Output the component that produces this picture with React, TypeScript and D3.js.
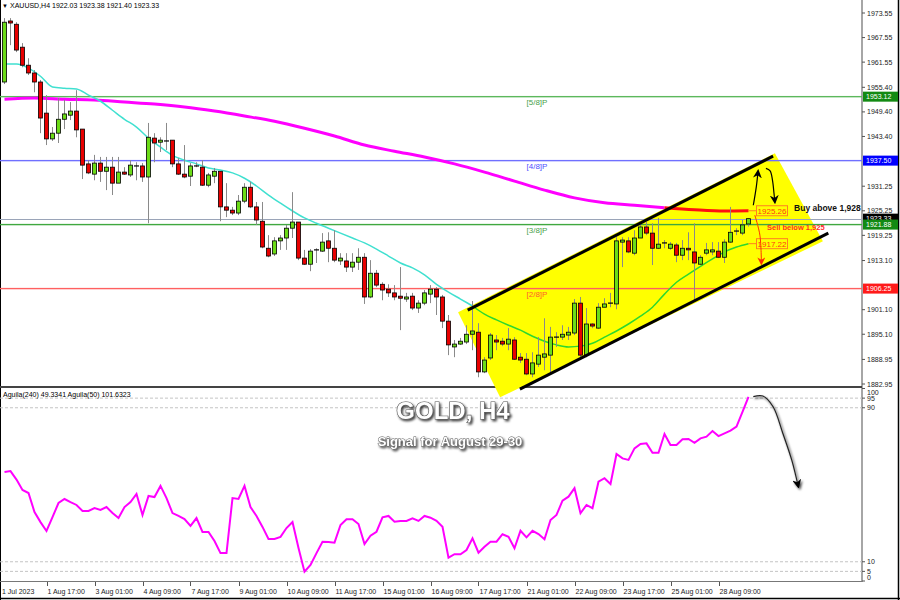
import * as d3 from "d3"

// XAUUSD H4 candles (bar 0 = leftmost)
const opens = [
  1956.7, 1971.6, 1970.8, 1965.2, 1960.8, 1958.9, 1956.7, 1949.1, 1942.8, 1944.2,
  1947.6, 1948.6, 1949.6, 1945.2, 1936.7, 1934.2, 1936.9, 1934.9, 1935.9, 1932.0,
  1934.7, 1934.0, 1936.2, 1936.2, 1933.5, 1943.0, 1942.0, 1942.3, 1942.5, 1936.7,
  1934.2, 1933.7, 1936.2, 1935.9, 1931.5, 1933.7, 1934.9, 1926.2, 1925.4, 1924.7,
  1927.6, 1931.0, 1926.2, 1922.7, 1916.1, 1914.7, 1917.9, 1918.6, 1921.0, 1922.5,
  1913.7, 1912.2, 1915.4, 1915.4, 1917.9, 1916.1, 1913.0, 1913.0, 1911.5, 1912.7,
  1913.9, 1904.2, 1910.0, 1907.3, 1906.1, 1905.2, 1904.4, 1903.7, 1904.4, 1901.5,
  1902.7, 1904.9, 1906.1, 1904.2, 1898.3, 1892.0, 1892.7, 1893.2, 1895.1, 1895.6,
  1885.9, 1889.3, 1893.7, 1893.4, 1892.7, 1893.7, 1889.5, 1889.0, 1885.4, 1887.8,
  1889.5, 1890.0, 1894.2, 1894.4, 1894.9, 1895.4, 1902.7, 1890.0, 1897.6, 1896.6,
  1901.7, 1902.5, 1902.5, 1917.6, 1917.9, 1914.9, 1918.6, 1921.3, 1919.8, 1916.1,
  1917.4, 1916.1, 1916.9, 1914.4, 1916.1, 1915.2, 1912.2, 1914.9, 1915.2, 1915.4,
  1913.9, 1917.6, 1920.3, 1919.8, 1922.03,
]
const highs = [
  1972.3, 1972.3, 1971.3, 1966.2, 1962.5, 1959.6, 1957.2, 1953.5, 1945.7, 1952.8,
  1952.3, 1951.8, 1954.7, 1945.2, 1937.6, 1938.9, 1938.4, 1938.4, 1938.4, 1938.4,
  1935.9, 1937.6, 1937.1, 1936.9, 1946.7, 1944.2, 1943.2, 1946.7, 1942.5, 1938.1,
  1941.3, 1936.9, 1937.1, 1937.6, 1934.5, 1935.7, 1934.9, 1932.0, 1926.2, 1929.1,
  1932.0, 1932.3, 1927.4, 1927.4, 1919.3, 1918.8, 1919.3, 1921.8, 1929.8, 1922.5,
  1915.7, 1915.9, 1916.1, 1919.8, 1920.0, 1920.5, 1914.9, 1914.9, 1914.9, 1916.1,
  1914.9, 1913.2, 1910.8, 1907.8, 1907.3, 1907.1, 1911.5, 1905.2, 1905.2, 1903.4,
  1905.9, 1907.1, 1906.6, 1904.7, 1899.8, 1893.7, 1894.2, 1897.3, 1903.2, 1897.8,
  1889.5, 1895.4, 1894.9, 1894.2, 1896.6, 1894.4, 1890.5, 1890.5, 1890.7, 1894.4,
  1899.0, 1896.9, 1895.6, 1897.3, 1896.9, 1903.7, 1904.2, 1901.5, 1897.8, 1902.7,
  1903.9, 1905.2, 1918.8, 1918.8, 1918.8, 1920.5, 1922.2, 1922.5, 1922.2, 1923.5,
  1918.1, 1917.6, 1917.4, 1918.1, 1920.0, 1922.2, 1914.4, 1917.4, 1917.6, 1917.6,
  1918.3, 1926.2, 1921.0, 1923.0, 1923.38,
]
const lows = [
  1956.2, 1965.7, 1964.0, 1960.3, 1958.4, 1954.2, 1944.2, 1941.3, 1942.3, 1941.8,
  1945.2, 1947.4, 1943.2, 1933.0, 1934.2, 1932.7, 1932.3, 1930.3, 1929.1, 1932.3,
  1934.0, 1933.5, 1932.7, 1932.3, 1922.2, 1937.1, 1939.6, 1940.1, 1935.9, 1934.0,
  1933.2, 1931.3, 1935.9, 1931.3, 1931.0, 1932.0, 1922.7, 1923.7, 1924.2, 1924.2,
  1927.1, 1925.9, 1921.8, 1916.1, 1913.9, 1914.2, 1915.7, 1915.7, 1918.6, 1913.2,
  1912.0, 1910.5, 1912.5, 1915.2, 1912.7, 1912.7, 1912.0, 1910.3, 1910.3, 1910.8,
  1902.5, 1903.9, 1906.6, 1903.4, 1904.2, 1903.4, 1896.1, 1903.0, 1901.0, 1900.3,
  1902.2, 1902.7, 1899.8, 1896.6, 1890.0, 1889.5, 1892.5, 1892.7, 1891.2, 1884.6,
  1885.6, 1888.8, 1891.2, 1892.2, 1891.2, 1888.8, 1888.1, 1885.1, 1884.6, 1887.1,
  1886.3, 1885.6, 1892.0, 1893.7, 1893.7, 1894.9, 1889.5, 1889.5, 1896.6, 1896.4,
  1901.7, 1901.7, 1901.2, 1911.5, 1914.9, 1914.4, 1918.6, 1919.3, 1912.0, 1915.9,
  1916.1, 1915.7, 1912.7, 1913.2, 1913.2, 1903.4, 1912.0, 1914.4, 1914.4, 1913.7,
  1912.5, 1917.4, 1919.3, 1919.3, 1921.40,
]
const closes = [
  1971.3, 1971.1, 1964.5, 1960.8, 1958.9, 1956.7, 1947.9, 1942.8, 1944.2, 1947.6,
  1948.9, 1949.6, 1945.0, 1936.4, 1934.5, 1936.9, 1934.9, 1935.9, 1932.0, 1934.7,
  1934.2, 1936.4, 1936.2, 1933.5, 1943.2, 1941.8, 1942.5, 1942.3, 1936.7, 1934.2,
  1933.5, 1936.2, 1936.2, 1931.5, 1934.0, 1934.9, 1926.2, 1925.4, 1924.7, 1927.6,
  1931.0, 1926.2, 1923.0, 1916.4, 1914.2, 1917.9, 1918.6, 1921.0, 1922.5, 1913.7,
  1912.2, 1915.4, 1915.7, 1917.6, 1916.1, 1913.2, 1913.7, 1911.5, 1912.7, 1913.9,
  1904.2, 1910.0, 1907.1, 1905.9, 1905.2, 1904.2, 1903.9, 1904.2, 1901.5, 1902.7,
  1905.2, 1906.1, 1904.2, 1898.3, 1892.5, 1892.7, 1893.4, 1895.1, 1895.9, 1885.9,
  1888.8, 1894.9, 1893.2, 1892.7, 1893.9, 1889.0, 1888.8, 1885.4, 1888.1, 1890.0,
  1890.3, 1894.4, 1894.4, 1895.1, 1895.6, 1902.7, 1890.0, 1897.6, 1897.1, 1901.7,
  1902.5, 1902.7, 1917.9, 1918.1, 1915.2, 1918.6, 1921.3, 1919.8, 1916.1, 1917.1,
  1917.1, 1917.1, 1914.4, 1916.1, 1915.7, 1912.5, 1913.9, 1915.7, 1915.7, 1913.9,
  1917.6, 1920.0, 1920.0, 1921.8, 1923.33,
]

// slow MA (magenta, red at the end), sampled every 5 bars
const ma200Bars = [0, 5, 10, 15, 20, 25, 30, 35, 40, 45, 50, 55, 60, 65, 70, 75, 80, 85, 90, 95, 100, 105, 110, 115, 120, 124]
const ma200 = [
  1952.5, 1952.8, 1952.5, 1952.3, 1951.8, 1951.3, 1950.6, 1949.6, 1948.4, 1947.1,
  1945.4, 1943.5, 1941.3, 1939.8, 1938.4, 1936.7, 1934.7, 1932.5, 1930.3, 1928.4,
  1927.2, 1926.6, 1926.0, 1925.5, 1925.2, 1925.26,
]
// fast MA (turquoise, then green), sampled every 2 bars
const ma20 = [
  1961.1, 1961.1, 1960.1, 1958.1, 1955.5, 1955.2, 1955.0, 1953.5, 1952.0, 1949.8,
  1947.6, 1945.7, 1943.0, 1940.8, 1938.8, 1937.6, 1936.7, 1935.7, 1935.2, 1934.5,
  1933.2, 1931.3, 1929.1, 1927.1, 1925.2, 1923.5, 1922.2, 1921.0, 1919.8, 1918.6,
  1917.4, 1915.9, 1914.2, 1912.5, 1911.3, 1909.6, 1907.3, 1905.4, 1903.7, 1902.0,
  1900.0, 1898.6, 1897.3, 1896.1, 1894.6, 1893.4, 1892.5, 1892.0, 1892.2, 1892.9,
  1894.4, 1895.9, 1897.6, 1899.5, 1901.7, 1904.9, 1907.8, 1909.8, 1911.7, 1913.5,
  1915.2, 1916.4, 1917.22,
]
const ma20Bars = ma20.map((_, i) => i * 2)

// Aguila(50) oscillator
const aguila = [
  56.6, 57.1, 52.7, 47.3, 45.7, 35.8, 30.6, 26.0, 33.2, 40.5,
  42.6, 41.0, 39.5, 36.4, 36.4, 37.9, 36.9, 38.4, 35.3, 32.7,
  38.4, 41.0, 45.2, 34.3, 44.2, 43.6, 49.4, 43.1, 35.3, 33.8,
  32.2, 28.6, 32.7, 25.5, 25.5, 20.8, 14.5, 14.5, 43.1, 42.6,
  49.4, 38.4, 33.8, 28.1, 21.8, 21.8, 22.9, 27.5, 30.6, 17.1,
  4.8, 8.3, 14.5, 20.4, 20.3, 19.9, 29.1, 32.1, 32.1, 29.6,
  19.2, 23.5, 25.6, 33.1, 33.8, 30.8, 31.2, 31.2, 32.6, 31.2,
  33.8, 32.9, 31.3, 28.2, 12.1, 13.9, 13.9, 16.1, 22.2, 14.7,
  17.8, 20.4, 20.4, 24.3, 23.0, 17.0, 26.1, 22.7, 26.1, 24.4,
  21.7, 31.7, 34.3, 41.7, 43.8, 48.2, 35.2, 39.5, 37.8, 51.6,
  53.4, 50.4, 66.0, 63.7, 62.9, 68.9, 71.2, 71.5, 66.6, 66.6,
  76.4, 70.6, 70.6, 73.6, 73.8, 71.8, 74.1, 75.0, 77.9, 75.3,
  76.7, 78.1, 80.2, 87.9, 95.7,
]

const priceTicks = [1973.55, 1967.55, 1961.55, 1955.40, 1949.40, 1943.40, 1931.25, 1925.25, 1919.25, 1913.10, 1901.10, 1895.10, 1888.95, 1882.95]
const aguilaTicks = [100, 95, 90, 10, 5, 0]
const aguilaLevels = [95, 90, 10, 5]

const timeBars = [7, 15, 23, 31, 39, 47, 55, 63, 71, 79, 87, 95, 103, 111, 119]
const timeLabels = ["1 Aug 17:00", "3 Aug 01:00", "4 Aug 09:00", "7 Aug 17:00", "9 Aug 01:00", "10 Aug 09:00", "11 Aug 17:00", "15 Aug 01:00", "16 Aug 09:00", "17 Aug 17:00", "21 Aug 01:00", "22 Aug 09:00", "23 Aug 17:00", "25 Aug 01:00", "28 Aug 09:00"]

const levelNames = ["[5/8]P", "[4/8]P", "[3/8]P", "[2/8]P"]
const levelPrices = [1953.12, 1937.50, 1921.88, 1906.25]
const levelLineColors = ["#5cb85c", "#7070ff", "#40a840", "#ff6060"]
const levelTextColors = ["#4a9f4a", "#4f4fff", "#4a9f4a", "#ff5a30"]
const levelBoxColors = ["#138a13", "#0000ff", "#138a13", "#ff1a1a"]
const bidPrice = 1923.33

// drawn objects, in (bar, price) terms
const channelBox = [[75.6, 1900.5], [128.4, 1939.3], [136.4, 1917.8], [82.6, 1879.7]]
const channelUpper = [[77.2, 1901.0], [128.1, 1938.6]]
const channelLower = [[85.9, 1881.7], [137.3, 1919.8]]
const buyArrow = [[124.8, 1926.6], [125.3, 1931.1], [125.6, 1935.0]]
const backArrow = [[126.9, 1935.6], [127.6, 1935.0], [128.0, 1932.7], [128.25, 1929.5], [128.4, 1927.3]]
const sellArrow = [[125.05, 1924.2], [125.9, 1919.3], [126.15, 1912.3]]
const aguilaArrow = [[124.8, 95.8], [126.4, 96.1], [128.1, 90.5], [129.7, 76.9], [131.2, 62.9], [132.3, 49.0]]

const FONT = "'Liberation Sans', Arial, sans-serif"
const GREEN = "#6cdc18"
const RED = "#e80000"

export default function App() {
  const x = d3.scaleLinear().domain([0, 143]).range([4.5, 862.5])
  const y = d3.scaleLinear().domain([1882.95, 1973.55]).range([384, 13])
  const yi = d3.scaleLinear().domain([0, 100]).range([581, 388.5])

  const priceLine = d3.line<number[]>().x(d => x(d[0])).y(d => y(d[1]))
  const smooth = d3.line<number[]>().x(d => x(d[0])).y(d => y(d[1])).curve(d3.curveMonotoneX)
  const bent = d3.line<number[]>().x(d => x(d[0])).y(d => y(d[1])).curve(d3.curveCatmullRom)
  const indLine = d3.line<number>().x((_, i) => x(i)).y(d => yi(d))
  const indBent = d3.line<number[]>().x(d => x(d[0])).y(d => yi(d[1])).curve(d3.curveCatmullRom)

  const slow = ma200Bars.map((b, i) => [b, ma200[i]])
  const fast = ma20Bars.map((b, i) => [b, ma20[i]])
  const last = opens.length - 1
  const boxX = x(last) + 8

  return (
    <svg width={900} height={600} style={{ position: "absolute", left: 0, top: 0, background: "#fff" }} fontFamily={FONT}>
      <defs>
        <clipPath id="mainClip"><rect x={0} y={0} width={862} height={386} /></clipPath>
        <clipPath id="indClip"><rect x={0} y={389} width={862} height={192} /></clipPath>
        <marker id="headBlack" viewBox="0 0 10 10" refX="8" refY="5" markerWidth="9" markerHeight="9" markerUnits="userSpaceOnUse" orient="auto">
          <path d="M0,0 L10,5 L0,10 L3,5 z" fill="#000" />
        </marker>
        <marker id="headRed" viewBox="0 0 10 10" refX="8" refY="5" markerWidth="8" markerHeight="8" markerUnits="userSpaceOnUse" orient="auto">
          <path d="M0,0 L10,5 L0,10 L3,5 z" fill="#ff3000" />
        </marker>
        <filter id="shadow" x="-10%" y="-30%" width="130%" height="170%">
          <feDropShadow dx="1.5" dy="1.8" stdDeviation="1" floodColor="#000" floodOpacity="0.75" />
        </filter>
      </defs>

      {/* frame */}
      <line x1={0.5} x2={0.5} y1={0} y2={600} stroke="#000" />
      <line x1={898.5} x2={898.5} y1={0} y2={600} stroke="#000" strokeWidth={1.5} />
      <line x1={0} x2={900} y1={598.5} y2={598.5} stroke="#000" strokeWidth={1.5} />
      <line x1={862} x2={862} y1={0} y2={582} stroke="#888" strokeWidth={1.5} />
      <line x1={0} x2={862} y1={387} y2={387} stroke="#444" strokeWidth={2} />
      <line x1={0} x2={862} y1={581.5} y2={581.5} stroke="#777" />

      {/* channel background */}
      <path d={priceLine(channelBox) + "Z"} fill="#ffff00" />

      <g clipPath="url(#mainClip)">
        {levelPrices.map((p, i) => (
          <g key={levelNames[i]}>
            <rect x={0} y={y(p) - 0.7} width={862} height={1.4} fill={levelLineColors[i]} />
            <text x={x(87)} y={y(p) + 8} fontSize={8} fill={levelTextColors[i]}>{levelNames[i]}</text>
          </g>
        ))}
        <line x1={0} x2={862} y1={Math.round(y(bidPrice)) + 0.5} y2={Math.round(y(bidPrice)) + 0.5} stroke="#9aa4b8" />

        <path d={smooth(slow.slice(0, 23)) ?? ""} fill="none" stroke="#ff00ff" strokeWidth={3} />
        <path d={smooth(slow.slice(22)) ?? ""} fill="none" stroke="#ff1010" strokeWidth={3} />
        <path d={smooth(fast.slice(0, 40)) ?? ""} fill="none" stroke="#40e0d0" strokeWidth={1.5} />
        <path d={smooth(fast.slice(39)) ?? ""} fill="none" stroke="#2ed82e" strokeWidth={1.5} />

        {opens.map((o, i) => {
          const c = closes[i]
          const top = y(Math.max(o, c))
          const bot = y(Math.min(o, c))
          const cx = x(i)
          return (
            <g key={i}>
              <line x1={cx} x2={cx} y1={y(highs[i])} y2={y(lows[i])} stroke="#8a8a8a" />
              {bot - top < 1.5
                ? <line x1={cx - 2.5} x2={cx + 2.5} y1={top} y2={top} stroke="#000" strokeWidth={1.2} />
                : <rect x={cx - 2} y={top} width={4} height={bot - top} fill={c >= o ? GREEN : RED} stroke="#000" strokeWidth={0.8} />}
            </g>
          )
        })}
      </g>

      {/* channel lines */}
      <path d={priceLine(channelUpper) ?? ""} stroke="#000" strokeWidth={3} />
      <path d={priceLine(channelLower) ?? ""} stroke="#000" strokeWidth={3} />

      {/* MA end labels */}
      <line x1={x(last)} x2={boxX} y1={y(ma200[ma200.length - 1])} y2={y(ma200[ma200.length - 1])} stroke="#ff8020" />
      <rect x={boxX} y={y(ma200[ma200.length - 1]) - 5} width={31} height={10} fill="none" stroke="#ff8020" />
      <text x={boxX + 15.5} y={y(ma200[ma200.length - 1]) + 3} fontSize={8} textAnchor="middle" fill="#ff3a10">{ma200[ma200.length - 1].toFixed(2)}</text>
      <line x1={x(last)} x2={boxX} y1={y(ma20[ma20.length - 1])} y2={y(ma20[ma20.length - 1])} stroke="#ff8020" />
      <rect x={boxX} y={y(ma20[ma20.length - 1]) - 5} width={31} height={10} fill="none" stroke="#ff8020" />
      <text x={boxX + 15.5} y={y(ma20[ma20.length - 1]) + 3} fontSize={8} textAnchor="middle" fill="#ff3a10">{ma20[ma20.length - 1].toFixed(2)}</text>

      {/* arrows and notes */}
      <path d={bent(buyArrow) ?? ""} fill="none" stroke="#000" strokeWidth={1.2} markerEnd="url(#headBlack)" />
      <path d={bent(backArrow) ?? ""} fill="none" stroke="#000" strokeWidth={1.2} markerEnd="url(#headBlack)" />
      <path d={bent(sellArrow) ?? ""} fill="none" stroke="#ff3000" strokeWidth={1} markerEnd="url(#headRed)" />
      <text x={x(131.6)} y={y(1925.3)} fontSize={8.5} fontWeight="bold" fill="#111">Buy above 1,928</text>
      <text x={x(127.1)} y={y(1920.6)} fontSize={7.5} fontWeight="bold" fill="#ff2a2a">Sell below 1,925</text>

      {/* price axis */}
      {priceTicks.map(p => (
        <g key={p}>
          <line x1={862} x2={865} y1={y(p)} y2={y(p)} stroke="#555" />
          <text x={867} y={y(p) + 2.5} fontSize={7} fill="#222">{p.toFixed(2)}</text>
        </g>
      ))}
      <rect x={863} y={y(bidPrice) - 5} width={35} height={10} fill="#000" />
      <text x={866} y={y(bidPrice) + 2.5} fontSize={7} fill="#fff">{bidPrice.toFixed(2)}</text>
      {levelPrices.map((p, i) => (
        <g key={p}>
          <rect x={863} y={y(p) - 5} width={35} height={10} fill={levelBoxColors[i]} />
          <text x={866} y={y(p) + 2.5} fontSize={7} fill="#fff">{p.toFixed(2)}</text>
        </g>
      ))}

      <text x={2} y={8} fontSize={6} fill="#000">▼</text>
      <text x={10} y={8} fontSize={7} fill="#000">XAUUSD,H4  1922.03 1923.38 1921.40 1923.33</text>

      {/* indicator panel */}
      {aguilaLevels.map(v => (
        <line key={v} x1={0} x2={862} y1={yi(v)} y2={yi(v)} stroke="#c4c4c4" strokeDasharray="3,2" />
      ))}
      <g clipPath="url(#indClip)">
        <path d={indLine(aguila) ?? ""} fill="none" stroke="#ff00ff" strokeWidth={2} />
      </g>
      <path d={indBent(aguilaArrow) ?? ""} fill="none" stroke="#222" strokeWidth={1.2} markerEnd="url(#headBlack)" filter="url(#shadow)" />
      {aguilaTicks.map(v => (
        <g key={v}>
          <line x1={862} x2={865} y1={yi(v)} y2={yi(v)} stroke="#555" />
          <text x={867} y={Math.min(Math.max(yi(v), 392), 577) + 2.5} fontSize={7} fill="#222">{v}</text>
        </g>
      ))}
      <text x={3} y={397} fontSize={7} fill="#000">Aguila(240) 49.3341  Aguila(50) 101.6323</text>

      <text x={453} y={419} fontSize={24} fontWeight="bold" textAnchor="middle" fill="#fff" stroke="#555" strokeWidth={1.2} paintOrder="stroke" filter="url(#shadow)">GOLD, H4</text>
      <text x={450} y={446} fontSize={13} fontWeight="bold" textAnchor="middle" fill="#fff" stroke="#555" strokeWidth={0.8} paintOrder="stroke" filter="url(#shadow)">Signal for August 29-30</text>

      {/* time axis */}
      <text x={2} y={594} fontSize={7} fill="#222">1 Jul 2023</text>
      {timeBars.map((b, i) => (
        <g key={b}>
          <line x1={Math.round(x(b)) + 0.5} x2={Math.round(x(b)) + 0.5} y1={582} y2={586} stroke="#555" />
          <text x={x(b) + 1} y={594} fontSize={7} fill="#222">{timeLabels[i]}</text>
        </g>
      ))}
    </svg>
  )
}
